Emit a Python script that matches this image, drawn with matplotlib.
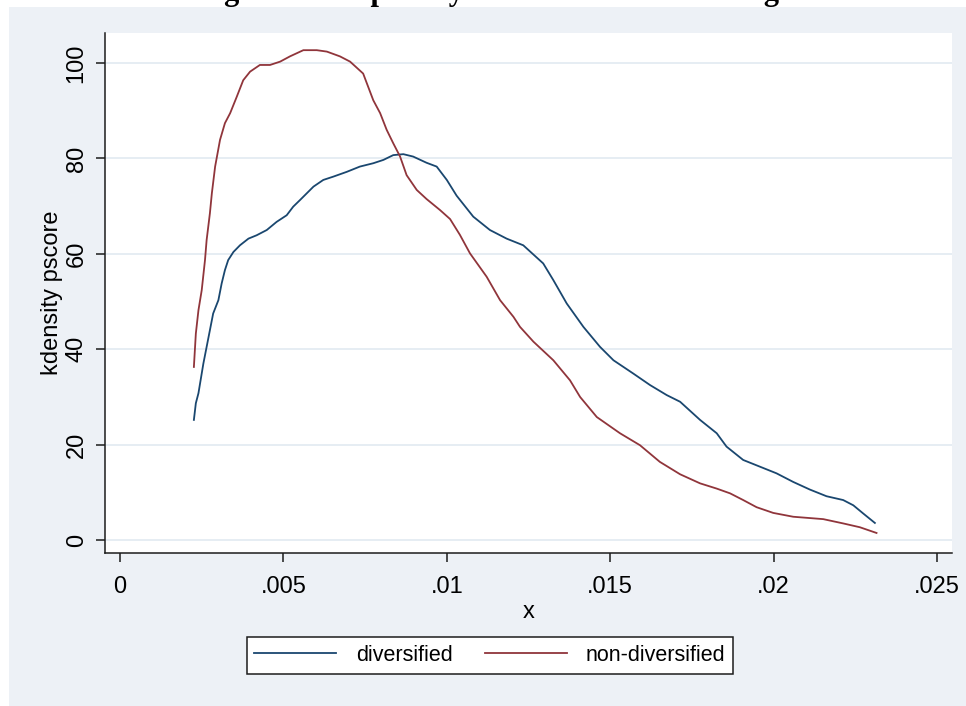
import numpy as np
import matplotlib.pyplot as plt
from matplotlib.patches import Rectangle

# kernel density of the propensity score, by group
div_x = [0.00226, 0.00232, 0.00240, 0.00255, 0.00265, 0.00275, 0.00285, 0.00301, 0.00311, 0.00321,
         0.00331, 0.00347, 0.00367, 0.00393, 0.00418, 0.00449, 0.00479, 0.00510, 0.00530, 0.00551,
         0.00592, 0.00622, 0.00653, 0.00694, 0.00734, 0.00775, 0.00806, 0.00836, 0.00867, 0.00897,
         0.00938, 0.00969, 0.01000, 0.01030, 0.01081, 0.01132, 0.01183, 0.01234, 0.01295, 0.01326,
         0.01367, 0.01418, 0.01469, 0.01510, 0.01571, 0.01622, 0.01673, 0.01714, 0.01775, 0.01826,
         0.01856, 0.01907, 0.01958, 0.02009, 0.02060, 0.02111, 0.02162, 0.02213, 0.02244, 0.02274,
         0.02310]
div_y = [25.2, 28.7, 30.8, 37.0, 40.5, 44.0, 47.5, 50.3, 53.8, 56.6,
         58.7, 60.4, 61.8, 63.2, 63.9, 65.0, 66.7, 68.1, 69.9, 71.3,
         74.1, 75.5, 76.2, 77.2, 78.3, 79.0, 79.7, 80.7, 80.9, 80.4,
         79.1, 78.3, 75.5, 72.2, 67.8, 65.0, 63.2, 61.8, 58.0, 54.5,
         49.6, 44.7, 40.5, 37.7, 34.9, 32.5, 30.4, 29.0, 25.2, 22.4,
         19.6, 16.8, 15.4, 14.0, 12.2, 10.6, 9.2, 8.4, 7.3, 5.6,
         3.6]

nondiv_x = [0.00226, 0.00232, 0.00240, 0.00250, 0.00260, 0.00265, 0.00275, 0.00281, 0.00291, 0.00306,
            0.00321, 0.00337, 0.00357, 0.00377, 0.00398, 0.00428, 0.00459, 0.00490, 0.00520, 0.00561,
            0.00602, 0.00633, 0.00673, 0.00704, 0.00744, 0.00775, 0.00796, 0.00816, 0.00836, 0.00857,
            0.00877, 0.00908, 0.00938, 0.00979, 0.01010, 0.01040, 0.01071, 0.01122, 0.01163, 0.01204,
            0.01224, 0.01265, 0.01326, 0.01377, 0.01408, 0.01459, 0.01530, 0.01591, 0.01652, 0.01714,
            0.01775, 0.01826, 0.01867, 0.01907, 0.01948, 0.01999, 0.02060, 0.02152, 0.02213, 0.02264,
            0.02315]
nondiv_y = [36.3, 43.3, 48.2, 52.4, 58.7, 62.9, 68.5, 72.7, 78.3, 83.9,
            87.4, 89.5, 92.9, 96.4, 98.2, 99.6, 99.6, 100.3, 101.4, 102.7,
            102.7, 102.4, 101.4, 100.3, 97.8, 92.2, 89.5, 86.0, 83.2, 80.4,
            76.5, 73.4, 71.5, 69.2, 67.3, 64.0, 60.1, 55.2, 50.3, 46.8,
            44.7, 41.6, 37.7, 33.5, 30.0, 25.8, 22.4, 19.9, 16.4, 13.8,
            11.9, 10.8, 9.8, 8.4, 6.9, 5.7, 4.9, 4.4, 3.5, 2.7,
            1.5]

x_ticks = [0, 0.005, 0.01, 0.015, 0.02, 0.025]
x_ticklabels = ["0", ".005", ".01", ".015", ".02", ".025"]
y_ticks = [0, 20, 40, 60, 80, 100]

W, H = 966, 706
BG = "#edf1f6"
plt.rcParams["font.family"] = ["Liberation Sans", "DejaVu Sans"]

fig = plt.figure(figsize=(W / 100, H / 100), dpi=100)
fig.patch.set_facecolor(BG)

# page margin left over from the document the graph sits in
fig.add_artist(Rectangle((0, 1 - 7 / H), 1, 7 / H, transform=fig.transFigure,
                         facecolor="white", edgecolor="none", zorder=0))
fig.add_artist(Rectangle((0, 0), 9 / W, 1, transform=fig.transFigure,
                         facecolor="white", edgecolor="none", zorder=0))
fig.text(488 / W, 1.0, "Figure 1: Propensity Scores before Matching",
         family="Liberation Serif", weight="bold", fontsize=22,
         ha="center", va="baseline")

ax = fig.add_axes([105 / W, (H - 553) / H, (952 - 105) / W, (553 - 33) / H])
ax.set_facecolor("white")

ax.plot(div_x, div_y, color="#1a476f", lw=1.3, label="diversified")
ax.plot(nondiv_x, nondiv_y, color="#90353b", lw=1.3, label="non-diversified")

ax.set_xlim(-0.00046, 0.02546)
ax.set_ylim(-2.7, 106.3)
ax.set_xticks(x_ticks)
ax.set_xticklabels(x_ticklabels)
ax.set_yticks(y_ticks)
ax.grid(axis="y", color="#e6edf3", lw=1.4)
ax.set_axisbelow(True)

for s in ["top", "right"]:
    ax.spines[s].set_visible(False)
for s in ["left", "bottom"]:
    ax.spines[s].set_linewidth(1.1)
    ax.spines[s].set_color("#1c1c1c")

ax.tick_params(axis="both", direction="out", length=6.5, width=1.1, color="#1c1c1c",
               labelsize=17)
ax.tick_params(axis="x", pad=10)
ax.tick_params(axis="y", labelrotation=90, pad=6)
for lab in ax.get_yticklabels():
    lab.set_va("center")

ax.set_xlabel("x", fontsize=17, labelpad=2)
ax.set_ylabel("kdensity pscore", fontsize=17, labelpad=2)

leg = fig.legend(loc="center", bbox_to_anchor=(490 / W, 1 - 655.5 / H), ncol=2,
                 fontsize=15.5, handlelength=3.8, handletextpad=0.9, columnspacing=1.5,
                 fancybox=False, frameon=True, borderpad=0.35)
leg.get_frame().set_edgecolor("#1c1c1c")
leg.get_frame().set_linewidth(1.1)
leg.get_frame().set_facecolor("white")
leg.get_frame().set_alpha(1)

fig.savefig("out.png", dpi=100, facecolor=fig.get_facecolor())
